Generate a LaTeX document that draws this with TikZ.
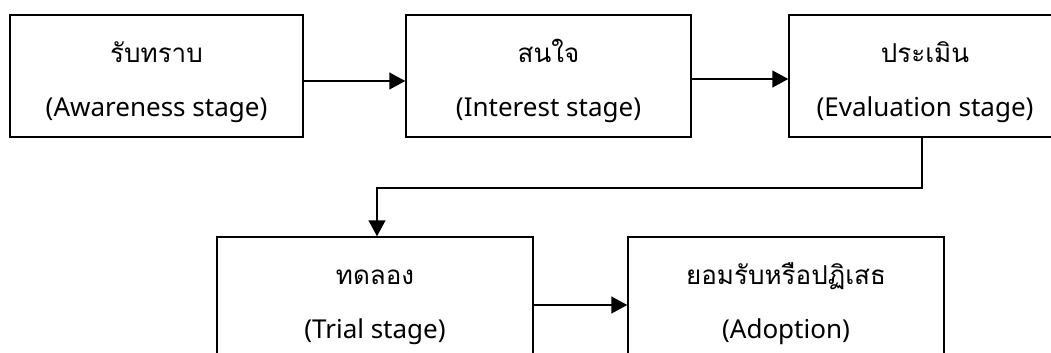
\documentclass[tikz,border=0pt]{standalone}
\usepackage{fontspec}
\setmainfont{Noto Sans}
\newfontfamily\thaifont[Script=Thai]{Loma}
\usetikzlibrary{arrows.meta}
\begin{document}
\begin{tikzpicture}[x=1pt,y=-1pt,
  box/.style={draw=black, line width=1.5pt, rectangle, minimum height=122pt, inner sep=0pt},
  th/.style={font=\thaifont\fontsize{26}{30}\selectfont, anchor=base, inner sep=0pt},
  en/.style={font=\fontsize{26}{30}\selectfont, anchor=base, inner sep=0pt},
  arr/.style={line width=1.5pt, -{Triangle[length=16pt,width=17pt]}}]
\useasboundingbox (0,0) rectangle (1051,353);
\node[box, minimum width=293pt] (b1) at (156.5,76) {};
\node[box, minimum width=285pt] (b2) at (548.5,76) {};
\node[box, minimum width=272pt] (b3) at (925,76) {};
\node[box, minimum width=316pt] (b4) at (375,298) {};
\node[box, minimum width=316pt] (b5) at (786,298) {};
\node[th] (t1) at (156.5,63) {รับทราบ};
\node[en] (e1) at (156.5,116) {(Awareness stage)};
\node[th] (t2) at (548.5,63) {สนใจ};
\node[en] (e2) at (548.5,116) {(Interest stage)};
\node[th] (t3) at (925,63) {ประเมิน};
\node[en] (e3) at (925,116) {(Evaluation stage)};
\node[th] (t4) at (375,284) {ทดลอง};
\node[en] (e4) at (375,338) {(Trial stage)};
\node[th] (t5) at (786,284) {ยอมรับหรือปฏิเสธ};
\node[en] (e5) at (786,338) {(Adoption)};
\draw[arr] ([yshift=-5pt]b1.east) -- ([yshift=-5pt]b2.west);
\draw[arr] ([yshift=-3pt]b2.east) -- ([yshift=-3pt]b3.west);
\draw[arr] ([xshift=-3pt]b3.south) -- ++(0,50) -| ([xshift=2pt]b4.north);
\draw[arr] ([yshift=-7pt]b4.east) -- ([yshift=-7pt]b5.west);
\end{tikzpicture}
\end{document}
